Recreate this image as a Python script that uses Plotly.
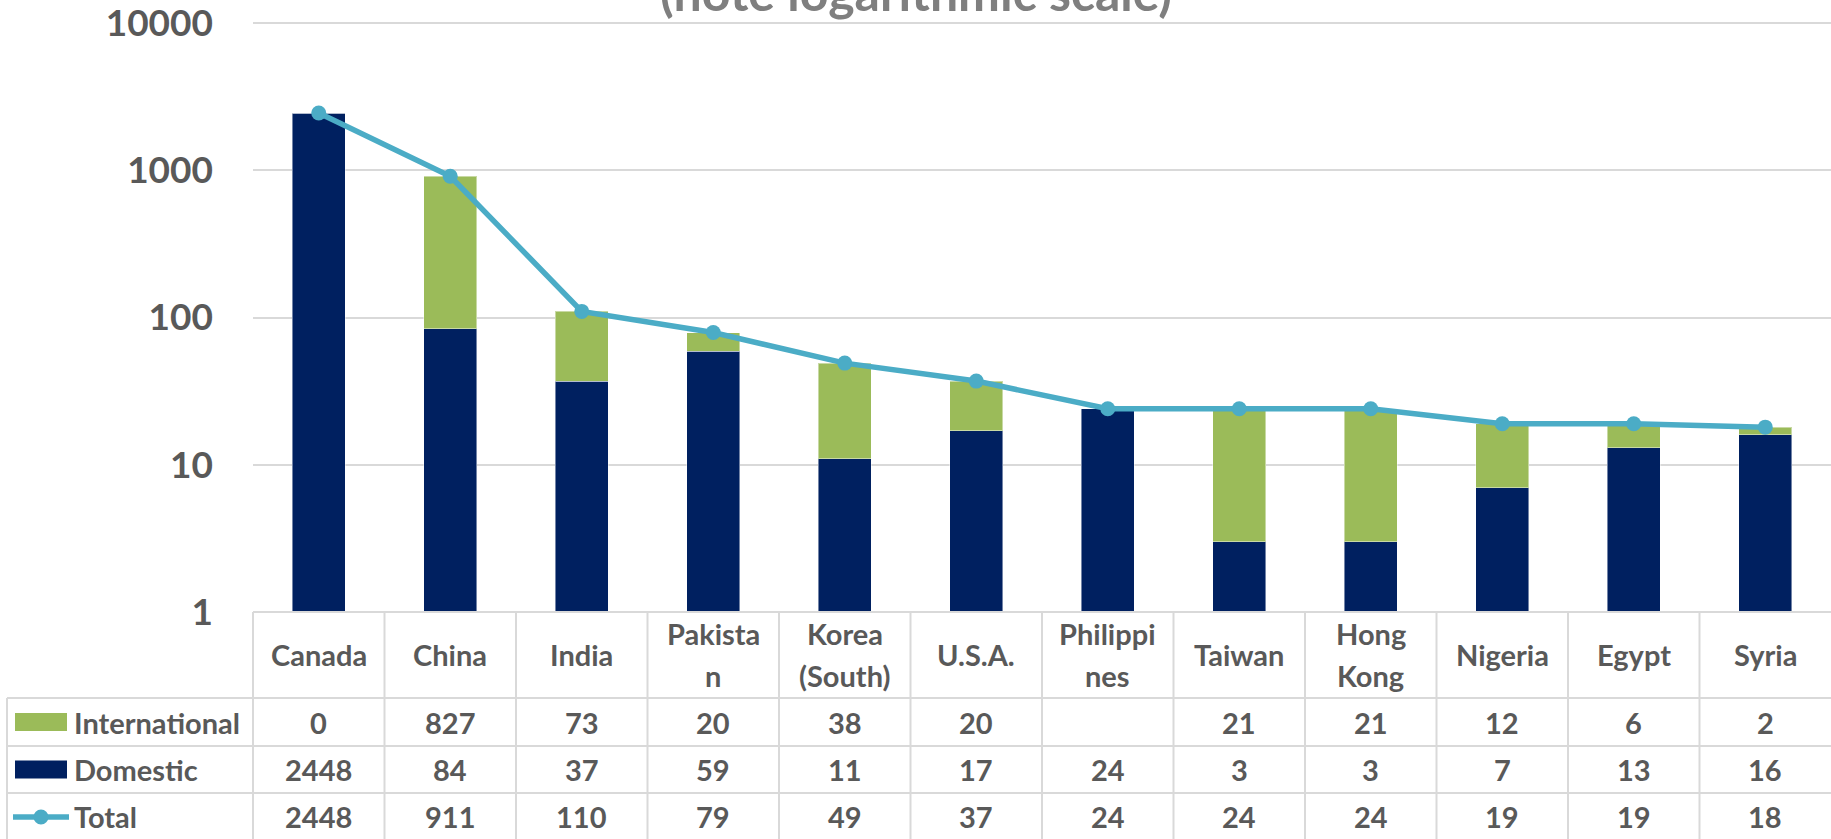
import plotly.graph_objects as go

categories = ["Canada", "China", "India", "Pakistan", "Korea (South)", "U.S.A.",
              "Philippines", "Taiwan", "Hong Kong", "Nigeria", "Egypt", "Syria"]
header_labels = ["Canada", "China", "India", "Pakista\nn", "Korea\n(South)", "U.S.A.",
                 "Philippi\nnes", "Taiwan", "Hong\nKong", "Nigeria", "Egypt", "Syria"]
international = [0, 827, 73, 20, 38, 20, None, 21, 21, 12, 6, 2]
domestic = [2448, 84, 37, 59, 11, 17, 24, 3, 3, 7, 13, 16]
total = [2448, 911, 110, 79, 49, 37, 24, 24, 24, 19, 19, 18]
y_tickvals = [1, 10, 100, 1000, 10000]
y_ticktext = ["1", "10", "100", "1000", "10000"]
title_text = "(note logarithmic scale)"
series_names = ["International", "Domestic", "Total"]

C_DOM = "#002060"
C_INT = "#9BBB59"
C_TOT = "#4BACC6"
C_TXT = "#595959"
C_GRID = "#D9D9D9"
FONT = "Lato, Carlito, Calibri, sans-serif"

W, H = 1831, 839
AXIS_BOTTOM = 612          # pixel row of value 1
DECADE = 147.25            # pixels per decade
PT = 19
PL, PR = 253, 0
PB = H - AXIS_BOTTOM
plot_h = AXIS_BOTTOM - PT
plot_w = W - PL - PR
Y_TOP = plot_h / DECADE


def yp(py):
    return (AXIS_BOTTOM - py) / plot_h


def xp(px):
    return (px - PL) / plot_w


idx = list(range(len(categories)))

fig = go.Figure()
fig.add_trace(go.Bar(x=idx, y=domestic, name="Domestic", marker_color=C_DOM,
                     marker_line=dict(color="rgba(255,255,255,0.45)", width=1),
                     width=0.4))
fig.add_trace(go.Bar(x=idx, y=international, name="International", marker_color=C_INT,
                     marker_line=dict(color="rgba(255,255,255,0.45)", width=1),
                     width=0.4))
fig.add_trace(go.Scatter(x=idx, y=total, name="Total", mode="lines+markers",
                         line=dict(color=C_TOT, width=5.5),
                         marker=dict(color=C_TOT, size=15)))

shapes = []
ann = []
line_style = dict(color=C_GRID, width=2)

# table horizontal lines
shapes.append(dict(type="line", xref="paper", yref="paper", x0=0, x1=1,
                   y0=yp(612), y1=yp(612), line=line_style, layer="above"))
for py in [698, 746, 793]:
    shapes.append(dict(type="line", xref="paper", yref="paper", x0=xp(7), x1=1,
                       y0=yp(py), y1=yp(py), line=line_style))
# vertical lines
shapes.append(dict(type="line", xref="paper", yref="paper", x0=0, x1=0,
                   y0=yp(612), y1=yp(845), line=line_style))
shapes.append(dict(type="line", xref="paper", yref="paper", x0=xp(7), x1=xp(7),
                   y0=yp(698), y1=yp(845), line=line_style))
for i in range(len(categories) - 1):
    shapes.append(dict(type="line", xref="x", yref="paper", x0=i + 0.5, x1=i + 0.5,
                       y0=yp(612), y1=yp(845), line=line_style))

tfont = dict(family=FONT, size=29, color=C_TXT, weight="bold")

# header
for i, lab in enumerate(header_labels):
    parts = lab.split("\n")
    if len(parts) == 1:
        ys = [654]
    else:
        ys = [633, 676]
    for part, py in zip(parts, ys):
        ann.append(dict(x=i, xref="x", y=yp(py), yref="paper", text=part,
                        showarrow=False, font=tfont, xanchor="center", yanchor="middle"))

# rows
rows = [(international, 722), (domestic, 769.5), (total, 816)]
for vals, py in rows:
    for i, v in enumerate(vals):
        if v is None:
            continue
        ann.append(dict(x=i, xref="x", y=yp(py), yref="paper", text=str(v),
                        showarrow=False, font=tfont, xanchor="center", yanchor="middle"))

# legend keys in table
for name, py, col in [(series_names[0], 722, C_INT), (series_names[1], 769.5, C_DOM)]:
    shapes.append(dict(type="rect", xref="paper", yref="paper", x0=xp(15), x1=xp(67),
                       y0=yp(py + 9), y1=yp(py - 9), fillcolor=col, line=dict(width=0)))
    ann.append(dict(x=xp(72), xref="paper", y=yp(py), yref="paper", text=name,
                    showarrow=False, font=tfont, xanchor="left", yanchor="middle"))
shapes.append(dict(type="line", xref="paper", yref="paper", x0=xp(13), x1=xp(69),
                   y0=yp(817), y1=yp(817), line=dict(color=C_TOT, width=5.5)))
shapes.append(dict(type="circle", xref="paper", yref="paper", x0=xp(33.5), x1=xp(48.5),
                   y0=yp(824.5), y1=yp(809.5), fillcolor=C_TOT, line=dict(width=0)))
ann.append(dict(x=xp(72), xref="paper", y=yp(816), yref="paper", text=series_names[2],
                showarrow=False, font=tfont, xanchor="left", yanchor="middle"))

# title (partly cut off at top)
ann.append(dict(x=xp(W / 2), xref="paper", y=yp(24), yref="paper",
                text=title_text, showarrow=False,
                font=dict(family=FONT, size=50, color="#7F7F7F", weight="bold"),
                xanchor="center", yanchor="bottom"))

fig.update_layout(
    width=W, height=H, autosize=False,
    margin=dict(l=PL, r=PR, t=PT, b=PB, pad=0),
    paper_bgcolor="white", plot_bgcolor="white",
    barmode="stack", showlegend=False,
    shapes=shapes, annotations=ann,
    font=dict(family=FONT, color=C_TXT),
)
fig.update_xaxes(range=[-0.5, len(categories) - 0.5], showticklabels=False,
                 showgrid=False, zeroline=False, showline=False, ticks="")
fig.update_yaxes(type="log", range=[0, Y_TOP], tickvals=y_tickvals, ticktext=y_ticktext,
                 showgrid=True, gridcolor=C_GRID, gridwidth=2, zeroline=False,
                 showline=False, ticks="", ticklabelstandoff=39,
                 ticklabeloverflow="allow",
                 tickfont=dict(family=FONT, size=37, color=C_TXT, weight="bold"))

fig.write_html("out.html", config={"displayModeBar": False},
               post_script="document.body.style.margin='0';document.body.style.overflow='hidden';")
